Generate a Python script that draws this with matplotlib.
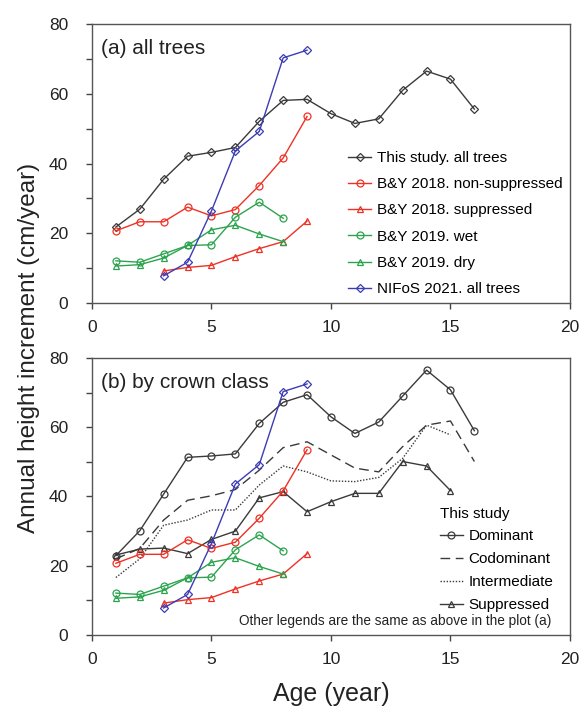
import numpy as np
from matplotlib import pyplot as plt
from matplotlib.ticker import MultipleLocator

plt.rcParams["font.family"] = ["Liberation Sans", "DejaVu Sans"]

# ---- data ----
age_all = [1, 2, 3, 4, 5, 6, 7, 8, 9, 10, 11, 12, 13, 14, 15, 16]
this_all = [21.8, 26.9, 35.5, 42.1, 43.2, 44.6, 52.1, 58.1, 58.4, 54.3, 51.5, 52.8, 61.0, 66.5, 64.2, 55.6]

age_by18 = [1, 2, 3, 4, 5, 6, 7, 8, 9]
by18_nonsup = [20.7, 23.3, 23.3, 27.5, 25.0, 26.8, 33.7, 41.6, 53.5]
age_by18s = [3, 4, 5, 6, 7, 8, 9]
by18_sup = [9.2, 10.2, 10.8, 13.3, 15.6, 17.6, 23.5]

age_by19 = [1, 2, 3, 4, 5, 6, 7, 8]
by19_wet = [12.1, 11.7, 14.1, 16.5, 16.7, 24.6, 28.9, 24.3]
by19_dry = [10.6, 11.0, 12.9, 16.5, 21.0, 22.3, 19.8, 17.6]

age_nifos = [3, 4, 5, 6, 7, 8, 9]
nifos = [7.8, 11.7, 26.4, 43.6, 49.2, 70.3, 72.5]

dominant = [22.9, 30.1, 40.7, 51.3, 51.7, 52.3, 61.1, 67.2, 69.4, 63.0, 58.2, 61.5, 69.0, 76.5, 70.8, 59.0]
codominant = [22.0, 25.0, 33.2, 38.9, 40.2, 42.0, 47.6, 54.1, 55.8, 52.0, 48.2, 47.1, 54.4, 60.6, 61.8, 50.1]
age_inter = [1, 2, 3, 4, 5, 6, 7, 8, 9, 10, 11, 12, 13, 14, 15]
intermediate = [16.6, 22.0, 31.7, 33.2, 36.1, 36.1, 43.3, 48.8, 47.1, 44.5, 44.3, 45.5, 51.0, 60.6, 57.8]
suppressed = [23.1, 24.8, 25.1, 23.5, 27.6, 30.0, 39.6, 41.4, 35.6, 38.5, 40.9, 40.9, 50.1, 48.8, 41.7]

BLACK = "#3a3a3a"
RED = "#ee3124"
GREEN = "#2ca44e"
BLUE = "#3c3cb4"
MS = 5


def draw_common(ax):
    kw = dict(mfc="none", ms=MS, lw=1.0, mew=0.9)
    ax.plot(age_by18, by18_nonsup, "-o", color=RED, label="B&Y 2018. non-suppressed", **kw)
    ax.plot(age_by18s, by18_sup, "-^", color=RED, label="B&Y 2018. suppressed", **kw)
    ax.plot(age_by19, by19_wet, "-o", color=GREEN, label="B&Y 2019. wet", **kw)
    ax.plot(age_by19, by19_dry, "-^", color=GREEN, label="B&Y 2019. dry", **kw)
    ax.plot(age_nifos, nifos, "-D", color=BLUE, ms=4, mfc="none", lw=1.0, mew=0.9,
            label="NIFoS 2021. all trees")


def style_axis(ax):
    ax.set_xlim(0, 20)
    ax.set_ylim(0, 80)
    ax.xaxis.set_major_locator(MultipleLocator(5))
    ax.yaxis.set_major_locator(MultipleLocator(20))
    ax.yaxis.set_minor_locator(MultipleLocator(10))
    ax.tick_params(which="both", direction="out", length=4, width=1, colors="#444444",
                   labelcolor="#222222", labelsize=12.5)
    ax.tick_params(axis="y", which="both", pad=13)
    ax.tick_params(axis="x", which="both", pad=8)
    for sp in ax.spines.values():
        sp.set_color("#555555")
        sp.set_linewidth(1.0)


fig = plt.figure(figsize=(5.81, 7.09), dpi=100)
ax1 = fig.add_axes([0.1583, 0.5726, 0.8227, 0.3935])
ax2 = fig.add_axes([0.1583, 0.1044, 0.8227, 0.3907])

# (a) all trees
ax1.plot(age_all, this_all, "-D", color=BLACK, ms=4, mfc="none", lw=1.0, mew=0.9,
         label="This study. all trees")
draw_common(ax1)
style_axis(ax1)
ax1.text(0.018, 0.945, "(a) all trees", transform=ax1.transAxes, fontsize=15, va="top",
         color="#222222")
ax1.legend(loc="lower right", bbox_to_anchor=(1.0, 0.0), frameon=False, fontsize=11,
           handlelength=1.5, handletextpad=0.4, labelspacing=0.8, borderaxespad=0.05)

# (b) by crown class
l_dom, = ax2.plot(age_all, dominant, "-o", color=BLACK, ms=MS, mfc="none", lw=1.0, mew=0.9)
l_cod, = ax2.plot(age_all, codominant, color=BLACK, lw=1.0, ls=(0, (7, 4)))
l_int, = ax2.plot(age_inter, intermediate, color=BLACK, lw=1.0, ls=(0, (1, 1.2)))
l_sup, = ax2.plot(age_inter, suppressed, "-^", color=BLACK, ms=MS, mfc="none", lw=1.0, mew=0.9)
draw_common(ax2)
style_axis(ax2)
ax2.text(0.018, 0.945, "(b) by crown class", transform=ax2.transAxes, fontsize=15, va="top",
         color="#222222")
leg = ax2.legend([l_dom, l_cod, l_int, l_sup], ["Dominant", "Codominant", "Intermediate", "Suppressed"],
                 title="This study", loc="lower right", bbox_to_anchor=(0.985, 0.05), frameon=False,
                 fontsize=11, title_fontsize=11, handlelength=1.5, handletextpad=0.4,
                 labelspacing=0.58, borderaxespad=0.2)
leg._legend_box.align = "left"
ax2.text(0.962, 0.025, "Other legends are the same as above in the plot (a)", transform=ax2.transAxes,
         fontsize=9.8, ha="right", va="bottom", color="#222222")

ax2.set_xlabel("Age (year)", fontsize=18, labelpad=11, color="#222222")
fig.text(0.05, 0.509, "Annual height increment (cm/year)", rotation=90, fontsize=17.5,
         ha="center", va="center", color="#222222")

plt.savefig("out.png", dpi=100)
plt.close(fig)
